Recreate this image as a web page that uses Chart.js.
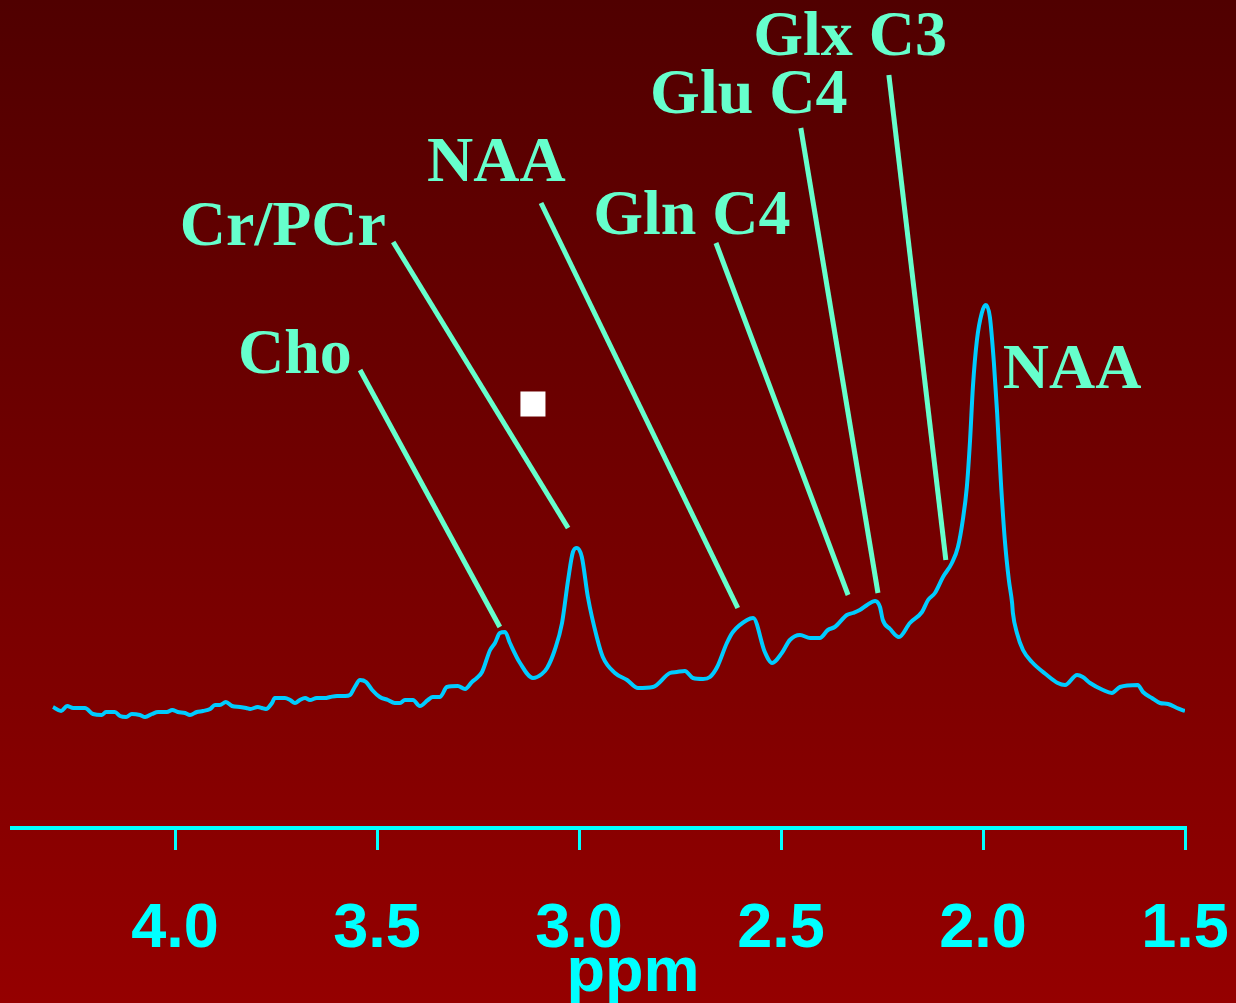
<!DOCTYPE html>
<html>
<head>
<meta charset="utf-8">
<script src="https://cdn.jsdelivr.net/npm/chart.js@4/dist/chart.umd.min.js"></script>
<style>
  html, body { margin: 0; padding: 0; background: #700000; }
  #wrap { width: 1236px; height: 1003px; }
</style>
</head>
<body>
<div id="wrap"><canvas id="chart" width="1236" height="1003"></canvas></div>
<script>
// spectrum: chemical shift (ppm) and signal height
const ppm = [4.302,4.282,4.267,4.252,4.223,4.203,4.181,4.171,4.149,4.136,
  4.121,4.107,4.087,4.074,4.057,4.042,4.020,4.007,3.993,3.975,
  3.963,3.946,3.931,3.913,3.901,3.889,3.874,3.859,3.839,3.824,
  3.814,3.795,3.785,3.775,3.760,3.753,3.728,3.715,3.703,3.691,
  3.678,3.666,3.649,3.629,3.616,3.599,3.579,3.567,3.555,3.542,
  3.527,3.512,3.493,3.473,3.456,3.443,3.431,3.411,3.394,3.374,
  3.362,3.344,3.327,3.300,3.282,3.265,3.253,3.240,3.220,3.208,
  3.196,3.183,3.171,3.146,3.114,3.092,3.079,3.060,3.042,3.027,
  3.015,3.005,2.993,2.978,2.956,2.941,2.911,2.881,2.854,2.817,
  2.775,2.758,2.738,2.718,2.693,2.676,2.658,2.634,2.619,2.584,
  2.569,2.540,2.522,2.498,2.478,2.453,2.428,2.404,2.384,2.367,
  2.337,2.322,2.305,2.287,2.267,2.255,2.248,2.230,2.208,2.181,
  2.151,2.136,2.119,2.099,2.077,2.062,2.050,2.040,2.032,2.025,
  2.015,2.003,1.993,1.983,1.973,1.965,1.956,1.946,1.936,1.928,
  1.926,1.916,1.901,1.879,1.842,1.815,1.797,1.767,1.753,1.735,
  1.703,1.681,1.661,1.617,1.604,1.582,1.562,1.542,1.520,1.500];

const intensity = [121,117,122,120,120,114,113,116,116,112,
  111,114,113,111,114,116,116,118,116,115,
  113,116,117,119,123,123,126,122,121,120,
  119,121,120,119,125,130,130,128,125,128,
  130,128,130,130,131,132,132,133,141,148,
  146,138,131,128,125,125,128,128,122,128,
  131,131,141,142,139,146,150,156,178,185,
  195,196,185,165,150,154,160,178,205,248,
  276,280,271,231,191,171,155,148,140,141,
  155,156,157,150,149,151,161,185,196,208,
  210,176,165,175,188,193,190,190,198,201,
  213,215,218,223,227,221,208,199,191,205,
  216,228,235,251,265,281,308,341,388,441,
  488,515,523,511,465,415,348,288,248,225,
  215,195,178,166,153,145,143,153,151,145,
  138,135,141,143,136,130,125,124,120,117];

// axis ticks
const tickValues = [4.0, 3.5, 3.0, 2.5, 2.0, 1.5];
const tickLabels = ['4.0', '3.5', '3.0', '2.5', '2.0', '1.5'];

// peak labels: text, anchor (left edge / baseline) in data units
const peakNames = ['Cho', 'Cr/PCr', 'NAA', 'Gln C4', 'Glu C4', 'Glx C3', 'NAA'];
const peakTextX = [3.844, 3.988, 3.376, 2.965, 2.824, 2.569, 1.951];
const peakTextY = [455, 583, 647, 594, 715, 773, 440];

// pointer lines, from the label down to the peak (last NAA has none)
const lineStartX = [3.542, 3.460, 3.094, 2.661, 2.451, 2.233];
const lineStartY = [458, 586, 625, 585, 700, 753];
const lineEndX = [3.196, 3.027, 2.607, 2.334, 2.260, 2.092];
const lineEndY = [201, 300, 220, 233, 235, 268];

// small white marker
const markerX = [3.114];
const markerY = [424];

const spectrum = ppm.map((p, i) => ({x: p, y: intensity[i]}));

const datasets = [{
  data: spectrum,
  borderColor: '#00ccff',
  borderWidth: 4,
  pointRadius: 0,
  cubicInterpolationMode: 'monotone',
  fill: false
}];

lineStartX.forEach((sx, i) => {
  datasets.push({
    data: [{x: sx, y: lineStartY[i]}, {x: lineEndX[i], y: lineEndY[i]}],
    borderColor: '#66ffcc',
    borderWidth: 5,
    borderCapStyle: 'butt',
    pointRadius: 0,
    fill: false
  });
});

datasets.push({
  data: markerX.map((m, i) => ({x: m, y: markerY[i]})),
  showLine: false,
  pointStyle: 'rect',
  pointRadius: 17.7,
  backgroundColor: '#ffffff',
  borderWidth: 0
});

// gradient background
const background = {
  id: 'background',
  beforeDraw(chart) {
    const c = chart.ctx;
    const g = c.createLinearGradient(0, 0, 0, chart.height);
    g.addColorStop(0, '#500000');
    g.addColorStop(1, '#950000');
    c.save();
    c.fillStyle = g;
    c.fillRect(0, 0, chart.width, chart.height);
    c.restore();
  }
};

// tick labels, axis title and peak names
const texts = {
  id: 'texts',
  afterDraw(chart) {
    const c = chart.ctx;
    const xs = chart.scales.x;
    const ys = chart.scales.y;
    c.save();
    c.fillStyle = '#00ffff';
    c.font = 'bold 63px "Liberation Sans", Arial, sans-serif';
    c.textAlign = 'center';
    c.textBaseline = 'alphabetic';
    tickValues.forEach((v, i) => {
      c.fillText(tickLabels[i], xs.getPixelForValue(v), 947);
    });
    c.fillText('ppm', 633, 991);

    c.fillStyle = '#66ffcc';
    c.font = 'bold 64px "Liberation Serif", "Times New Roman", serif';
    c.textAlign = 'left';
    peakNames.forEach((t, i) => {
      c.fillText(t, xs.getPixelForValue(peakTextX[i]), ys.getPixelForValue(peakTextY[i]));
    });
    c.restore();
  }
};

new Chart(document.getElementById('chart').getContext('2d'), {
  type: 'line',
  data: {datasets: datasets},
  options: {
    responsive: false,
    animation: false,
    layout: {autoPadding: false, padding: {left: 12, right: 51, top: 0, bottom: 0}},
    plugins: {legend: {display: false}, tooltip: {enabled: false}},
    scales: {
      x: {
        type: 'linear',
        reverse: true,
        min: 1.5,
        max: 4.4035,
        afterBuildTicks: s => { s.ticks = tickValues.map(v => ({value: v})); },
        afterFit: s => { s.height = 175; },
        ticks: {display: false},
        grid: {
          drawOnChartArea: false,
          drawTicks: true,
          tickLength: 22,
          color: '#00ffff',
          lineWidth: 3
        },
        border: {display: true, color: '#00ffff', width: 4}
      },
      y: {
        display: false,
        min: 0,
        max: 828
      }
    }
  },
  plugins: [background, texts]
});
</script>
</body>
</html>
